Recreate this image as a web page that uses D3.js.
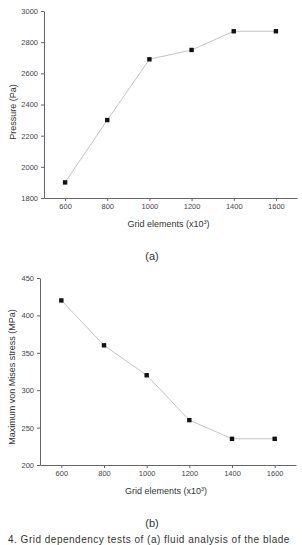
<!DOCTYPE html>
<html lang="en">
<head>
<script src="https://d3js.org/d3.v7.min.js"></script>
<style>
body { margin: 0; background: #fff; }
text { font-family: "Liberation Sans", Arial, sans-serif; }
</style>
</head>
<body>
<script>
// data
const gridElements = [600, 800, 1000, 1200, 1400, 1600];
const pressure = [1900, 2300, 2690, 2750, 2870, 2870];
const vonMises = [420, 360, 320, 260, 235, 235];
const xTicks = [600, 800, 1000, 1200, 1400, 1600];
const pressureTicks = [1800, 2000, 2200, 2400, 2600, 2800, 3000];
const stressTicks = [200, 250, 300, 350, 400, 450];

const W = 302, H = 545;
const svg = d3.select("body").append("svg")
  .attr("width", W).attr("height", H);

const fmt = d3.format("d");

// one small panel: axes, light grey line, black squares, labels
function drawPanel(opt) {
  const x = d3.scaleLinear().domain([500, 1700]).range([opt.left, opt.right]);
  const y = d3.scaleLinear().domain(opt.yDomain).range([opt.bottom, opt.top]);
  const g = svg.append("g");

  const xa = g.append("g")
    .attr("transform", `translate(0,${opt.bottom})`)
    .call(d3.axisBottom(x).tickValues(xTicks).tickFormat(fmt)
      .tickSize(3).tickSizeOuter(0).tickPadding(3));
  const ya = g.append("g")
    .attr("transform", `translate(${opt.left},0)`)
    .call(d3.axisLeft(y).tickValues(opt.yTicks).tickFormat(fmt)
      .tickSize(3).tickSizeOuter(0).tickPadding(3));
  [xa, ya].forEach(a => {
    a.select(".domain").attr("stroke", "#666").attr("stroke-width", 1);
    a.selectAll(".tick line").attr("stroke", "#666");
    a.selectAll(".tick text").attr("fill", "#444").style("font-size", "7.5px");
  });

  const data = gridElements.map((d, i) => ({ x: d, y: opt.values[i] }));
  g.append("path").datum(data)
    .attr("fill", "none").attr("stroke", "#c4c4c4").attr("stroke-width", 1)
    .attr("d", d3.line().x(d => x(d.x)).y(d => y(d.y)));
  g.selectAll("rect.pt").data(data).enter().append("rect")
    .attr("class", "pt")
    .attr("x", d => x(d.x) - 2.2).attr("y", d => y(d.y) - 2.2)
    .attr("width", 4.4).attr("height", 4.4)
    .attr("fill", "#111");

  // x label with superscript
  const xl = g.append("text")
    .attr("x", (opt.left + opt.right) / 2 - 2).attr("y", opt.xLabelY)
    .attr("text-anchor", "middle").attr("fill", "#333").style("font-size", "9px");
  xl.append("tspan").text("Grid elements (x10");
  xl.append("tspan").attr("dy", -3.5).style("font-size", "5.5px").text("3");
  xl.append("tspan").attr("dy", 3.5).text(")");

  g.append("text")
    .attr("transform", `translate(${opt.yLabelX},${opt.yLabelY}) rotate(-90)`)
    .attr("text-anchor", "middle").attr("fill", "#333").style("font-size", "9px")
    .text(opt.yLabel);

  g.append("text")
    .attr("x", 152).attr("y", opt.tagY)
    .attr("text-anchor", "middle").attr("fill", "#333")
    .style("font-size", "11px").style("font-weight", "300")
    .text(opt.tag);
}

drawPanel({
  left: 44, right: 297, top: 11, bottom: 198,
  yDomain: [1800, 3000], yTicks: pressureTicks, values: pressure,
  xLabelY: 227, yLabel: "Pressure (Pa)", yLabelX: 16, yLabelY: 112,
  tag: "(a)", tagY: 260
});

drawPanel({
  left: 40, right: 296, top: 278, bottom: 465,
  yDomain: [200, 450], yTicks: stressTicks, values: vonMises,
  xLabelY: 494, yLabel: "Maximum von Mises stress (MPa)", yLabelX: 15, yLabelY: 377,
  tag: "(b)", tagY: 527
});

// caption line at the bottom edge
svg.append("text")
  .attr("x", 8).attr("y", 543)
  .attr("fill", "#333").style("font-size", "10px").style("letter-spacing", "0.5px")
  .text("4. Grid dependency tests of (a) fluid analysis of the blade");
</script>
</body>
</html>
